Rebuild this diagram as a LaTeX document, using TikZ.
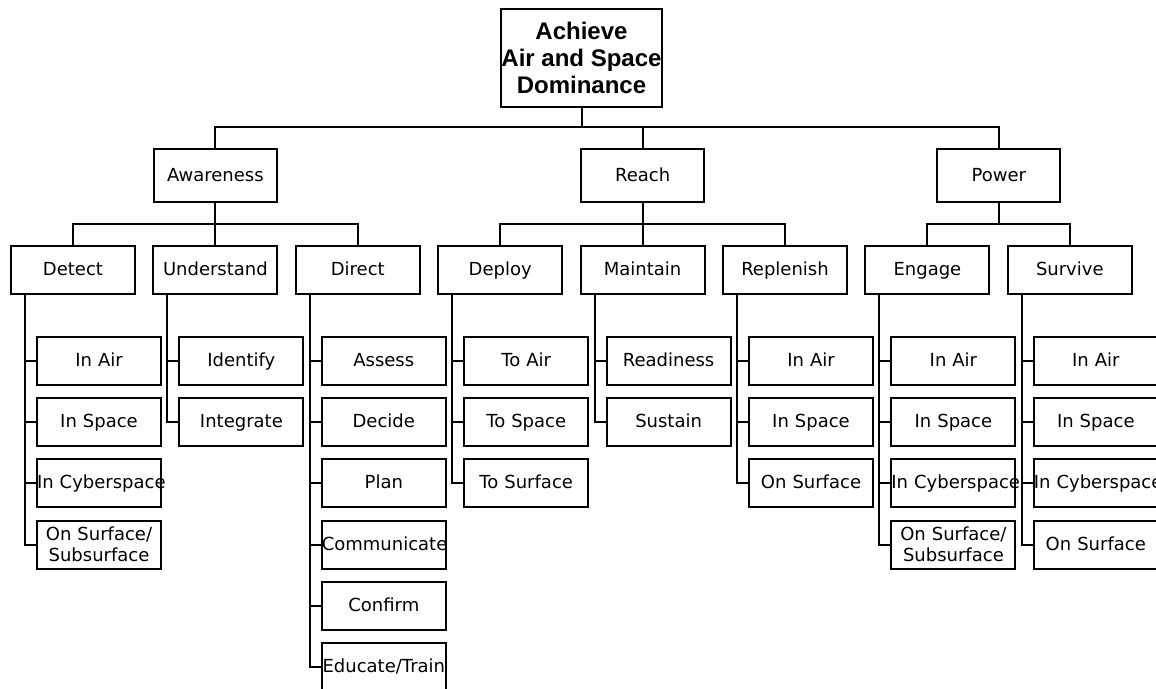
\documentclass[tikz,border=0pt]{standalone}
\usepackage{fontspec}
\setsansfont{DejaVu Sans}
\newfontfamily\goalfont{Liberation Sans}
\usetikzlibrary{positioning}
\hyphenpenalty=10000

\begin{document}
\begin{tikzpicture}[x=1pt,y=1pt,font=\sffamily\fontsize{18}{21}\selectfont,node distance=11.2pt,line width=2pt]
	
	
	\tikzset{node goal/.style={draw, minimum width=157pt, minimum height=98pt,
			inner sep=0pt, align=center,
			font=\goalfont\bfseries\fontsize{24}{27}\selectfont}}
	\tikzset{node area/.style={draw, text width=123pt, align=center, minimum height=53pt,
			inner sep=0pt, text height=12pt, text depth=1pt}}
	\tikzset{node task/.style={draw, text width=124pt, align=center, minimum height=48pt,
			inner sep=0pt, text height=12pt, text depth=1pt}}
	\tikzset{node leaf/.style={node task}}
	\tikzset{node leaf two/.style={node task, text height={}, text depth={}}}
	\tikzset{spine/.style={to path={|- (\tikztotarget)}}}
	
	\fill[white] (0,0) rectangle (1156,-688);
	\useasboundingbox (0,0) rectangle (1156,-688);
	\clip (0,0) rectangle (1156,-688);
	
	\node[node goal] (Goal) at (581.5,-58) {Achieve\\Air and Space\\Dominance};
	
	% second row
	\node[node task] (Det) at (73,-270) {Detect};
	\node[node task, right=16.4pt of Det] (Und) {Understand};
	\node[node task, right=16.4pt of Und] (Dir) {Direct};
	\node[node task, right=16.4pt of Dir] (Dep) {Deploy};
	\node[node task, right=16.4pt of Dep] (Mai) {Maintain};
	\node[node task, right=16.4pt of Mai] (Rep) {Replenish};
	\node[node task, right=16.4pt of Rep] (Eng) {Engage};
	\node[node task, right=16.4pt of Eng] (Sur) {Survive};
	
	% first row
	\node[node area, above=42pt of Und] (Aw) {Awareness};
	\node[node area, above=42pt of Mai] (Re) {Reach};
	\node[node area] (Po) at (998.8,-175.5) {Power};
	
	% leaves
	\node[node leaf, below=41pt of Det, xshift=26pt] (Det1) {In Air};
	\node[node leaf, below=of Det1] (Det2) {In Space};
	\node[node leaf, below=of Det2] (Det3) {\mbox{In Cyberspace}};
	\node[node leaf two, below=of Det3] (Det4) {On Surface/\\Subsurface};
	
	\node[node leaf, below=41pt of Und, xshift=26pt] (Und1) {Identify};
	\node[node leaf, below=of Und1] (Und2) {Integrate};
	
	\node[node leaf, below=41pt of Dir, xshift=26pt] (Dir1) {Assess};
	\node[node leaf, below=of Dir1] (Dir2) {Decide};
	\node[node leaf, below=of Dir2] (Dir3) {Plan};
	\node[node leaf, below=of Dir3] (Dir4) {Communicate};
	\node[node leaf, below=of Dir4] (Dir5) {Confirm};
	\node[node leaf, below=of Dir5] (Dir6) {Educate/Train};
	
	\node[node leaf, below=41pt of Dep, xshift=26pt] (Dep1) {To Air};
	\node[node leaf, below=of Dep1] (Dep2) {To Space};
	\node[node leaf, below=of Dep2] (Dep3) {To Surface};
	
	\node[node leaf, below=41pt of Mai, xshift=26pt] (Mai1) {Readiness};
	\node[node leaf, below=of Mai1] (Mai2) {Sustain};
	
	\node[node leaf, below=41pt of Rep, xshift=26pt] (Rep1) {In Air};
	\node[node leaf, below=of Rep1] (Rep2) {In Space};
	\node[node leaf, below=of Rep2] (Rep3) {On Surface};
	
	\node[node leaf, below=41pt of Eng, xshift=26pt] (Eng1) {In Air};
	\node[node leaf, below=of Eng1] (Eng2) {In Space};
	\node[node leaf, below=of Eng2] (Eng3) {\mbox{In Cyberspace}};
	\node[node leaf two, below=of Eng3] (Eng4) {On Surface/\\Subsurface};
	
	\node[node leaf, below=41pt of Sur, xshift=26pt] (Sur1) {In Air};
	\node[node leaf, below=of Sur1] (Sur2) {In Space};
	\node[node leaf, below=of Sur2] (Sur3) {\mbox{In Cyberspace}};
	\node[node leaf, below=of Sur3] (Sur4) {On Surface};
	
	\coordinate (busA) at (0,-127);
	\coordinate (busB) at (0,-224);
	
	\draw (Goal.south) -- (Goal.south |- busA)
	(Aw.north) |- (busA -| Po.north) -- (Po.north)
	(Re.north) -- (Re.north |- busA);
	
	\draw (Aw.south) -- (Und.north)
	(Det.north) |- (busB -| Dir.north) -- (Dir.north);
	\draw (Re.south) -- (Mai.north)
	(Dep.north) |- (busB -| Rep.north) -- (Rep.north);
	\draw (Po.south) -- (Po.south |- busB)
	(Eng.north) |- (busB -| Sur.north) -- (Sur.north);
	
	\draw[every edge/.append style={spine}]
	([xshift=15pt]Det.south west) edge (Det1.west) edge (Det2.west) edge (Det3.west) edge (Det4.west)
	([xshift=15pt]Und.south west) edge (Und1.west) edge (Und2.west)
	([xshift=15pt]Dir.south west) edge (Dir1.west) edge (Dir2.west) edge (Dir3.west)
	edge (Dir4.west) edge (Dir5.west) edge (Dir6.west)
	([xshift=15pt]Dep.south west) edge (Dep1.west) edge (Dep2.west) edge (Dep3.west)
	([xshift=15pt]Mai.south west) edge (Mai1.west) edge (Mai2.west)
	([xshift=15pt]Rep.south west) edge (Rep1.west) edge (Rep2.west) edge (Rep3.west)
	([xshift=15pt]Eng.south west) edge (Eng1.west) edge (Eng2.west) edge (Eng3.west) edge (Eng4.west)
	([xshift=15pt]Sur.south west) edge (Sur1.west) edge (Sur2.west) edge (Sur3.west) edge (Sur4.west);
\end{tikzpicture}
\end{document}
